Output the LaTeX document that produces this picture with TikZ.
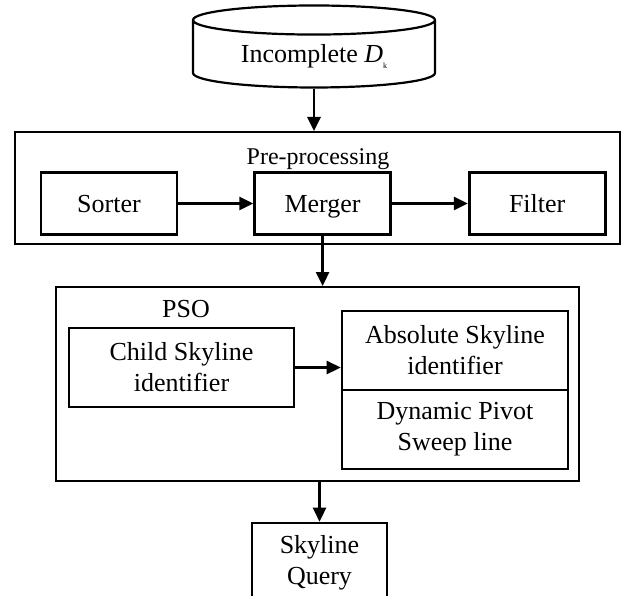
\documentclass[tikz,border=0pt]{standalone}
\usepackage{fontspec}
\setmainfont{Liberation Serif}
\usetikzlibrary{shapes.geometric, positioning, arrows.meta}

\begin{document}
\begin{tikzpicture}[x=1pt, y=-1pt]
        % Styles
        \tikzstyle{frame} = [rectangle, draw=black, line width=2pt]
        \tikzstyle{unit} = [rectangle, draw=black, line width=2.6pt,
        minimum width=136pt, minimum height=62pt, text centered,
        font=\fontsize{26}{31}\selectfont]
        \tikzstyle{stage} = [unit, text height=23pt, text depth=5pt]
        \tikzstyle{part} = [unit, minimum width=226pt, align=center]
        \tikzstyle{flow} = [line width=2.6pt, -{Triangle[length=14pt, width=13pt]}]

        \useasboundingbox (0,0) rectangle (626,596);

        % Nodes
        \node (data) [cylinder, shape border rotate=90, draw, line width=2.2pt,
        minimum height=82pt, minimum width=242pt, aspect=0.19,
        font=\fontsize{26}{31}\selectfont] at (314,56)
        {Incomplete \textit{D}\raisebox{-0.5ex}{\fontsize{8}{8}\selectfont k}};

        \node (pre) [frame, minimum width=605pt, minimum height=112pt] at (317.5,188) {};
        \node (prelabel) [font=\fontsize{24}{28}\selectfont] at (318,159) {Pre-processing};
        \node (sorter) [stage] at (109,203.5) {Sorter};
        \node (merger) [stage, right=75pt of sorter] {Merger};
        \node (filter) [stage, right=76pt of merger] {Filter};

        \node (pso) [frame, minimum width=523pt, minimum height=194pt] at (317.5,384) {};
        \node (psolabel) [font=\fontsize{26}{31}\selectfont] at (186,309) {PSO};
        \node (child) [part, minimum width=225pt, minimum height=79pt] at (181.5,367.5)
        {Child Skyline\\identifier};
        \node (absolute) [part, minimum height=79pt] at (455,350.5)
        {Absolute Skyline\\identifier};
        \node (dynamic) [part, minimum height=79pt, below=-2.6pt of absolute]
        {Dynamic Pivot\\Sweep line};

        \node (query) [unit, minimum width=135pt, minimum height=80pt, align=center] at (319.5,563)
        {Skyline\\Query};

        % Arrows
        \draw[flow] (data.south) -- (data.south |- pre.north);
        \draw[flow] (sorter) -- (merger);
        \draw[flow] (merger) -- (filter);
        \draw[flow] (merger.south) -- (merger.south |- pso.north);
        \draw[flow] (child.east) -- (child.east -| absolute.west);
        \draw[flow] (pso.south -| query.north) -- (query.north);
    \end{tikzpicture}
\end{document}
